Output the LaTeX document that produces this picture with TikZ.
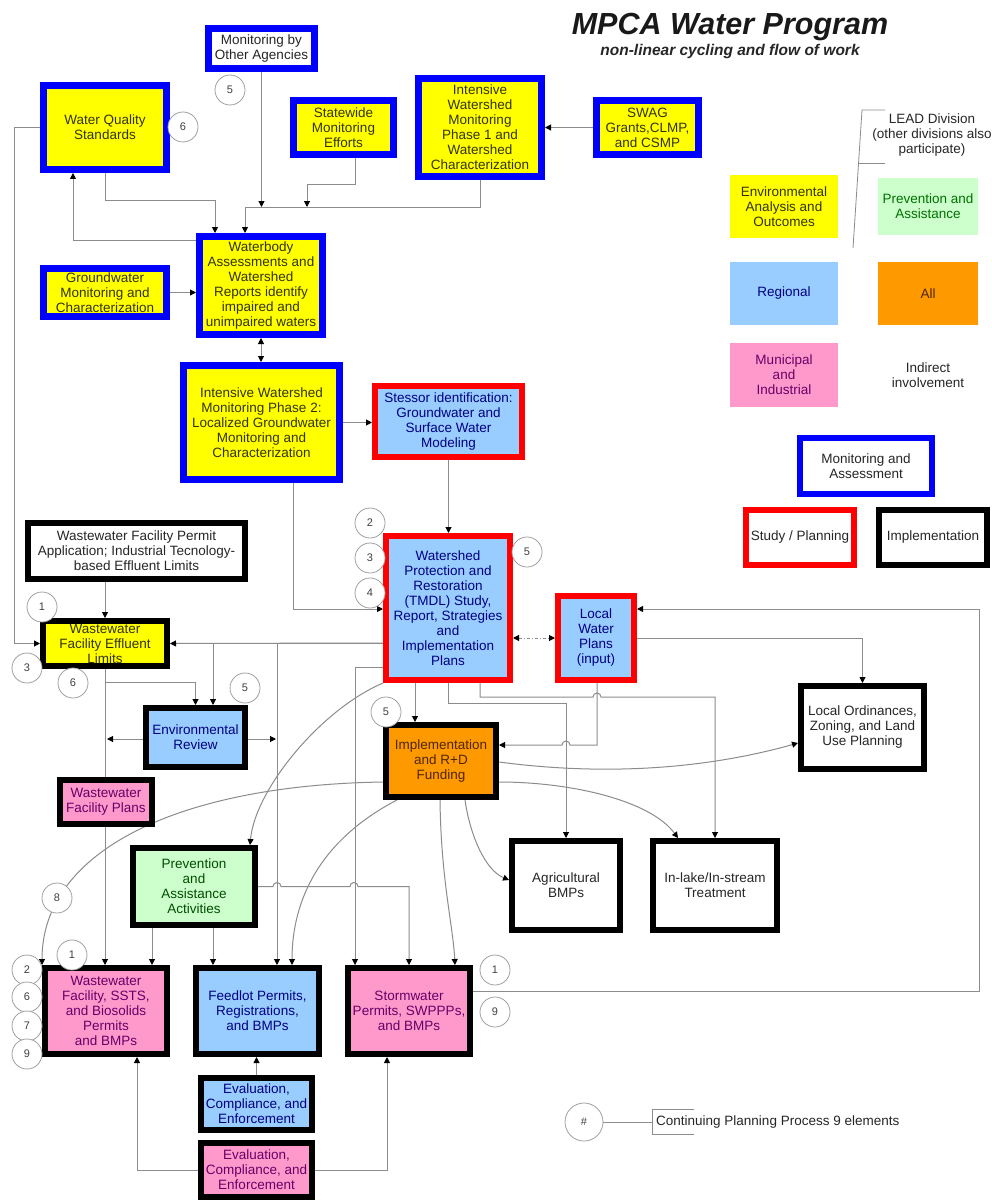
\documentclass[tikz,border=0pt]{standalone}
\usepackage{fontspec}
\setmainfont{Liberation Sans}
\usetikzlibrary{arrows.meta}
\definecolor{pyel}{HTML}{FFFF00}
\definecolor{pblu}{HTML}{0000FF}
\definecolor{pred}{HTML}{FF0000}
\definecolor{lblu}{HTML}{99CCFF}
\definecolor{lpink}{HTML}{FF99CC}
\definecolor{lgrn}{HTML}{CCFFCC}
\definecolor{lorg}{HTML}{FF9900}
\definecolor{tyel}{HTML}{333300}
\definecolor{tblu}{HTML}{000080}
\definecolor{tpink}{HTML}{660066}
\definecolor{tgrn}{HTML}{004D00}
\definecolor{torg}{HTML}{4D2600}
\definecolor{lgray}{HTML}{8C8C8C}
\definecolor{cgray}{HTML}{A0A0A0}
\pgfdeclarelayer{bgzero}\pgfdeclarelayer{edges}\pgfsetlayers{bgzero,edges,main}
\tikzset{
  box/.style={rectangle, align=center, inner sep=1pt, font=\fontsize{13.5}{15}\selectfont, text=black!85},
  monb/.style={box, draw=pblu, line width=7pt},
  studb/.style={box, draw=pred, line width=6pt},
  implb/.style={box, draw=black, line width=6pt},
  fyel/.style={fill=pyel, text=tyel},
  fblu/.style={fill=lblu, text=tblu},
  fpink/.style={fill=lpink, text=tpink},
  fgrn/.style={fill=lgrn, text=tgrn},
  forg/.style={fill=lorg, text=torg},
  fwht/.style={fill=white},
  wh/.style 2 args={minimum width=#1pt, minimum height=#2pt},
  num/.style={circle, draw=cgray, fill=white, line width=0.8pt, minimum size=30pt, inner sep=0pt, font=\fontsize{11}{12}\selectfont, text=black!75},
  conn/.style={draw=lgray, line width=1pt},
  arr/.style={conn, -{Triangle[length=6pt,width=6pt,color=black]}},
  darr/.style={conn, {Triangle[length=6pt,width=6pt,color=black]}-{Triangle[length=6pt,width=6pt,color=black]}},
}
\begin{document}
\begin{tikzpicture}[x=1pt,y=-1pt]
\useasboundingbox (0,0) rectangle (992,1201);
\begin{pgfonlayer}{bgzero}\fill[white] (0,0) rectangle (992,1201);\end{pgfonlayer}

% title
\node[font=\fontsize{30.5}{33}\selectfont\bfseries\itshape, text=black!90] (title) at (730,27) {MPCA Water Program};
\node[font=\fontsize{15.5}{17}\selectfont\bfseries\itshape, text=black!85] (subtitle) at (730,51) {non-linear cycling and flow of work};

% monitoring / assessment boxes
\node[monb, fwht, wh={106}{40}] (mo) at (261.5,48.5) {Monitoring by\\Other Agencies};
\node[monb, fyel, wh={123}{84}] (wqs) at (105,127.5) {Water Quality\\Standards};
\node[monb, fyel, wh={100}{54}] (sme) at (343.5,127.5) {Statewide\\Monitoring\\Efforts};
\node[monb, fyel, wh={123}{98}] (iwma) at (480,127.5) {Intensive\\Watershed\\Monitoring\\Phase 1 and\\Watershed\\Characterization};
\node[monb, fyel, wh={102}{54}] (swag) at (647.5,127.5) {SWAG\\Grants,CLMP,\\and CSMP};
\node[monb, fyel, wh={123}{48}] (gw) at (105,292.5) {Groundwater\\Monitoring and\\Characterization};
\node[monb, fyel, wh={123}{98}] (wb) at (261,285.5) {Waterbody\\Assessments and\\Watershed\\Reports identify\\impaired and\\unimpaired waters};
\node[monb, fyel, wh={156}{114}] (iwmb) at (261.5,422.5) {Intensive Watershed\\Monitoring Phase 2:\\Localized Groundwater\\Monitoring and\\Characterization};

% study / planning boxes
\node[studb, fblu, wh={147}{71}] (stress) at (448.5,421.5) {Stessor identification:\\Groundwater and\\Surface Water\\Modeling};
\node[studb, fblu, wh={124}{144}] (tmdl) at (448,608) {Watershed\\Protection and\\Restoration\\(TMDL) Study,\\Report, Strategies\\and\\Implementation\\Plans};
\node[studb, fblu, wh={76}{84}] (lwp) at (596,638) {Local\\Water\\Plans\\(input)};

% implementation boxes
\node[implb, fwht, wh={217}{56}] (wfpa) at (136.5,551) {Wastewater Facility Permit\\Application; Industrial Tecnology-\\based Effluent Limits};
\node[implb, fyel, wh={124}{45}] (wfel) at (105,643.5) {Wastewater\\Facility Effluent\\Limits};
\node[implb, fblu, wh={99}{59}] (er) at (195.5,737.5) {Environmental\\Review};
\node[implb, forg, wh={110}{72}] (impl) at (441,761) {Implementation\\and R+D\\Funding};
\node[implb, fwht, wh={123}{83}] (lo) at (862.5,727.5) {Local Ordinances,\\Zoning, and Land\\Use Planning};
\node[implb, fpink, wh={92}{44}] (wwfp) at (106,802) {Wastewater\\Facility Plans};
\node[implb, fgrn, wh={122}{77}] (prev) at (194,886.5) {Prevention\\and\\Assistance\\Activities};
\node[implb, fwht, wh={108}{89}] (ag) at (566,885.5) {Agricultural\\BMPs};
\node[implb, fwht, wh={124}{89}] (inlake) at (715,885.5) {In-lake/In-stream\\Treatment};
\node[implb, fpink, wh={122}{86}] (wwp) at (106,1011) {Wastewater\\Facility, SSTS,\\and Biosolids\\Permits\\and BMPs};
\node[implb, fblu, wh={123}{86}] (feed) at (257.5,1011) {Feedlot Permits,\\Registrations,\\and BMPs};
\node[implb, fpink, wh={122}{86}] (storm) at (409,1011) {Stormwater\\Permits, SWPPPs,\\and BMPs};
\node[implb, fblu, wh={111}{52}] (evb) at (256.5,1104) {Evaluation,\\Compliance, and\\Enforcement};
\node[implb, fpink, wh={111}{54}] (evp) at (256.5,1170) {Evaluation,\\Compliance, and\\Enforcement};

% legend
\node[box, fyel, wh={108}{63}] (legenv) at (784,206.5) {Environmental\\Analysis and\\Outcomes};
\node[box, fgrn, text=tgrn!80!green, wh={100}{57}] (legpa) at (928,206.5) {Prevention and\\Assistance};
\node[box, fblu, wh={108}{63}] (legreg) at (784,293.5) {Regional};
\node[box, forg, wh={100}{63}] (legall) at (928,293.5) {All};
\node[box, fpink, wh={108}{64}] (legmun) at (784,375) {Municipal\\and\\Industrial};
\node[box] (legind) at (928,375) {Indirect\\involvement};
\node[box] (lead) at (932,135) {LEAD Division\\(other divisions also\\participate)};
\node[box, draw=pblu, line width=6pt, fwht, wh={132}{56}] (legma) at (866,466) {Monitoring and\\Assessment};
\node[studb, fwht, wh={108}{55}] (legsp) at (800,537.5) {Study / Planning};
\node[implb, fwht, wh={108}{55}] (legimp) at (933,537.5) {Implementation};
\node[num, minimum size=38pt] (hash) at (584,1122) {\#};
\node[box, anchor=west, inner sep=4pt, minimum height=24pt] (cpp) at (652,1122) {Continuing Planning Process 9 elements};

% numbered circles
\node[num] (na) at (230,90) {5};
\node[num] (nb) at (183,127) {6};
\node[num] (nc) at (370,523) {2};
\node[num] (nd) at (370,558) {3};
\node[num] (ne) at (370,593) {4};
\node[num] (nf) at (527,552) {5};
\node[num] (ng) at (42,607) {1};
\node[num] (nh) at (27,668) {3};
\node[num] (ni) at (73,683) {6};
\node[num] (nj) at (245,688) {5};
\node[num] (nk) at (386,712) {5};
\node[num] (nl) at (57,898) {8};
\node[num] (nm) at (72,955) {1};
\node[num] (nn) at (27,970) {2};
\node[num] (no) at (27,997) {6};
\node[num] (np) at (27,1026) {7};
\node[num] (nq) at (27,1054) {9};
\node[num] (nr) at (495,970) {1};
\node[num] (ns) at (495,1012) {9};

\coordinate (jA) at (261.5,207);
\coordinate (jB) at (307,207);
\coordinate (jC) at (107,739);
\coordinate (jD) at (276,739);

\begin{pgfonlayer}{edges}
% top
\draw[arr] (mo.south) -- (jA);
\draw[arr] ([xshift=11.5pt]sme.south) -- (355,185) -- (307,185) -- (jB);
\draw[arr] (iwma.south) -- (480,207) -- (245,207) -- ([xshift=-16pt]wb.north);
\draw[arr] (wqs.south) -- (105,200) -- (215,200) -- ([xshift=-46pt]wb.north);
\draw[arr] ([yshift=45.5pt]wb.west) -- (73,240) -- ([xshift=-32pt]wqs.south);
\draw[arr] (gw.east) -- (gw.east -| wb.west);
\draw[arr] (swag.west) -- (swag.west -| iwma.east);
\draw[darr] (wb.south) -- (wb.south |- iwmb.north);
\draw[arr] (iwmb.east) -- (iwmb.east -| stress.west);
\draw[arr] (stress.south) -- (stress.south |- tmdl.north);
\draw[arr] ([xshift=31.5pt]iwmb.south) |- ([yshift=-1pt]tmdl.west);
% left side
\draw[arr] (wqs.west) -- (14,127.5) |- (wfel.west);
\draw[arr] (wfpa.south -| wfel.north) -- (wfel.north);
\draw[arr] ([yshift=-35pt]tmdl.west) -- (wfel.east);
\draw[arr] ([yshift=-35pt]tmdl.west) -- (213,643) -- ([xshift=17.5pt]er.north);
\draw[arr] ([yshift=-35pt]tmdl.west) -- (277,643) -- ([xshift=19.5pt]feed.north);
\draw[arr] (wfel.south) -- (105,682) -- (195.5,682) -- (er.north);
\draw[arr] (wfel.south) -- ([xshift=-1pt]wwp.north);
\draw[arr] ([yshift=-1.5pt]er.west) -- (jC);
\draw[arr] ([yshift=-1.5pt]er.east) -- (jD);
% TMDL and local plans
\draw[arr] ([xshift=-33pt]tmdl.south) -- ([xshift=-26pt]impl.north);
\draw[darr, dash pattern=on 3pt off 2pt on 1pt off 2pt] ([yshift=-30pt]tmdl.east) -- (lwp.west);
\draw[arr] (lwp.east) -| (lo.north);
\draw[arr] ([yshift=20pt]storm.east) -- (979,991) -- (979,609) -- ([yshift=29pt]lwp.east);
\draw[arr] (tmdl.south) -- (448,703) -| (ag.north);
\draw[arr] ([xshift=32pt]tmdl.south) -- (480,697) -- (593,697) arc[start angle=180,end angle=0,radius=4pt] -- (715,697) -- (inlake.north);
\draw[arr] ([xshift=1pt]lwp.south) -- (597,745) -- (570,745) arc[start angle=0,end angle=180,radius=4pt] -- ([yshift=16pt]impl.east);
% implementation curves
\draw[arr] ([yshift=-1pt]impl.east) .. controls (620,778) and (720,765) .. ([yshift=-15.5pt]lo.west);
\draw[arr] ([yshift=-21pt]impl.east) .. controls (570,782) and (650,800) .. ([xshift=-37pt]inlake.north);
\draw[arr] ([xshift=24pt]impl.south) .. controls (470,835) and (485,870) .. ([yshift=5.5pt]ag.west);
\draw[arr] ([xshift=-1pt]impl.south) .. controls (441,880) and (453,925) .. ([xshift=46pt]storm.north);
\draw[arr] ([xshift=-44pt]impl.south) .. controls (320,840) and (292,900) .. ([xshift=34.5pt]feed.north);
\draw[arr] ([yshift=-21pt]impl.west) .. controls (180,785) and (42,850) .. ([xshift=-64pt]wwp.north);
\draw[arr] (tmdl.south west) .. controls (320,710) and (255,790) .. ([xshift=56pt]prev.north);
% prevention
\draw[arr] ([xshift=-42pt]prev.south) -- ([xshift=46pt]wwp.north);
\draw[arr] ([xshift=19pt]prev.south) -- ([xshift=-44.5pt]feed.north);
\draw[arr] (prev.east) -- (273,886.5) arc[start angle=180,end angle=0,radius=4pt] -- (350,886.5) arc[start angle=180,end angle=0,radius=4pt] -- (409,886.5) -- (storm.north);
\draw[arr] ([yshift=-59pt]tmdl.west) -| ([xshift=-54pt]storm.north);
% evaluation
\draw[arr] (evb.north) -- (evb.north |- feed.south);
\draw[arr] (evp.west) -| ([xshift=31pt]wwp.south);
\draw[arr] (evp.east) -| ([xshift=-22pt]storm.south);
% legend lines
\draw[conn, line width=0.8pt] (885,110) -- (862,110) -- (853,248);
\draw[conn, line width=0.8pt] (859,163) -- (885,163);
\draw[conn, line width=0.8pt] (hash.east) -- (cpp.west);
\draw[conn, line width=0.8pt] ([xshift=42pt]cpp.north west) -- (cpp.north west) -- (cpp.south west) -- ([xshift=42pt]cpp.south west);
\end{pgfonlayer}
\end{tikzpicture}
\end{document}
